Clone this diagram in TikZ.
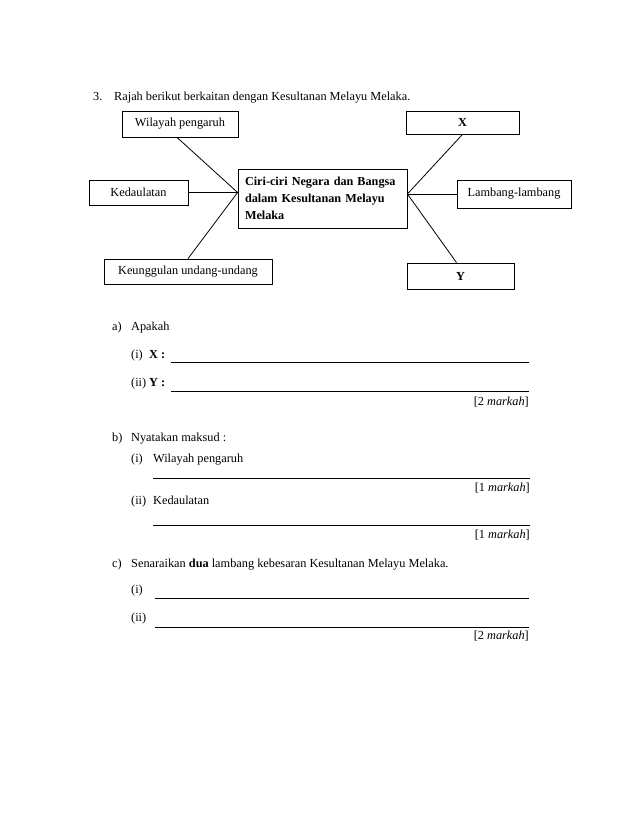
\documentclass[tikz,border=0pt]{standalone}
\usepackage{fontspec}
\setmainfont{Liberation Serif}
\begin{document}
\begin{tikzpicture}[x=1pt,y=-1pt,
  every node/.style={font=\fontsize{12.3}{14.5}\selectfont},
  box/.style={draw, line width=0.8pt, inner sep=0pt},
  conn/.style={line width=0.8pt},
  ans/.style={line width=0.8pt},
  txt/.style={anchor=base west, inner sep=0pt},
  markah/.style={anchor=base east, inner sep=0pt}]
\useasboundingbox (0,0) rectangle (638,826);
\fill[white] (0,0) rectangle (638,826);

% title
\node[txt] (q3) at (93,100.5) {3.};
\node[txt] (title) at (114,100.5) {Rajah berikut berkaitan dengan Kesultanan Melayu Melaka.};

% diagram
\node[box, minimum width=169pt, minimum height=59pt, text width=155pt, inner xsep=7pt, align=left,
      font=\bfseries\fontsize{12.2}{16.7}\selectfont] (c) at (322.5,198.5)
  {Ciri-ciri Negara dan Bangsa\\dalam Kesultanan Melayu\\Melaka};
\node[box, minimum width=116pt, minimum height=26pt] (wil) at (180,124) {Wilayah pengaruh};
\node[box, minimum width=99pt, minimum height=25pt] (ked) at (138.5,192.5) {Kedaulatan};
\node[box, minimum width=168pt, minimum height=25pt] (keu) at (188,271.5) {Keunggulan undang-undang};
\node[box, minimum width=113pt, minimum height=23pt, font=\bfseries\fontsize{12.3}{14.5}\selectfont] (X) at (462.5,122.5) {X};
\node[box, minimum width=114pt, minimum height=28pt] (lam) at (514,194) {Lambang-lambang};
\node[box, minimum width=107pt, minimum height=26pt, font=\bfseries\fontsize{12.3}{14.5}\selectfont] (Y) at (460.5,276) {Y};

\coordinate (lh) at (c.west |- ked.east);
\coordinate (rh) at (c.east |- lam.west);
\draw[conn] ([xshift=-3pt]wil.south) -- (lh);
\draw[conn] (ked.east) -- (lh);
\draw[conn] (keu.north) -- (lh);
\draw[conn] (X.south) -- (rh);
\draw[conn] (lam.west) -- (rh);
\draw[conn] ([xshift=-4pt]Y.north) -- (rh);

% part a
\node[txt] (a) at (112,330) {a)};
\node[txt] (aq) at (131,330) {Apakah};
\node[txt] (ai) at (131,358.5) {(i)};
\node[txt] (aix) at (149,358.5) {\textbf{X :}};
\node[txt] (aii) at (131,386) {(ii)};
\node[txt] (aiiy) at (149,386) {\textbf{Y :}};
\draw[ans] (171,362.5) -- (529,362.5);
\draw[ans] (171,391) -- (529,391);
\node[markah] (am) at (529,405.5) {[2 \textit{markah}]};

% part b
\node[txt] (b) at (112,441) {b)};
\node[txt] (bq) at (131,441) {Nyatakan maksud :};
\node[txt] (bi) at (131,462) {(i)};
\node[txt] (bit) at (153,462) {Wilayah pengaruh};
\draw[ans] (153,478) -- (530,478);
\node[markah] (bm1) at (530,491) {[1 \textit{markah}]};
\node[txt] (bii) at (131,504) {(ii)};
\node[txt] (biit) at (153,504) {Kedaulatan};
\draw[ans] (153,525) -- (530,525);
\node[markah] (bm2) at (530,538) {[1 \textit{markah}]};

% part c
\node[txt] (cc) at (112,567) {c)};
\node[txt] (cq) at (131,567) {Senaraikan \textbf{dua} lambang kebesaran Kesultanan Melayu Melaka.};
\node[txt] (ci) at (131,593) {(i)};
\draw[ans] (155,598) -- (529,598);
\node[txt] (cii) at (131,621) {(ii)};
\draw[ans] (155,627) -- (529,627);
\node[markah] (cm) at (529,639) {[2 \textit{markah}]};
\end{tikzpicture}
\end{document}
